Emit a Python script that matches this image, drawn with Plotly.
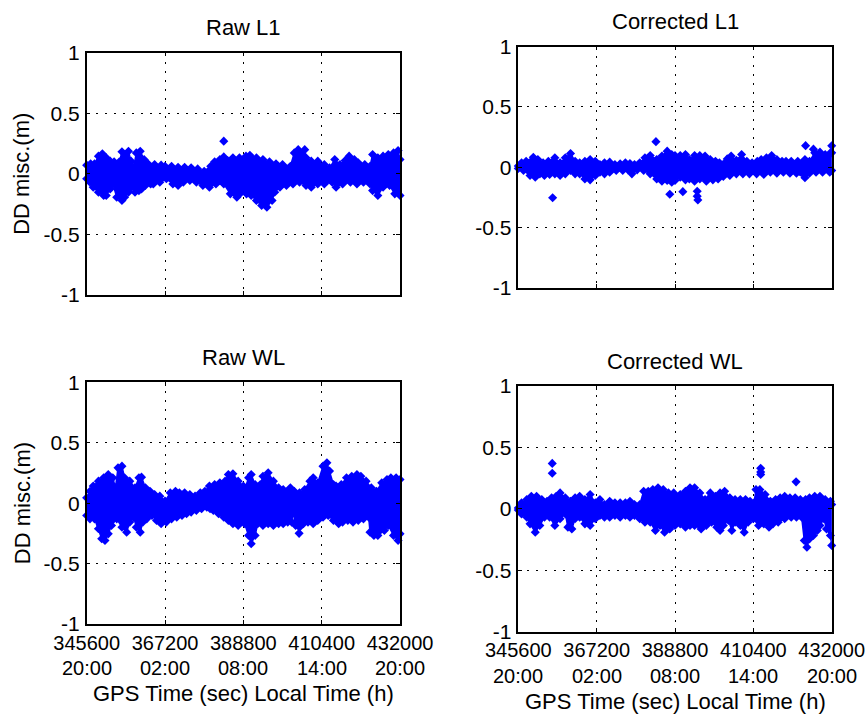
import plotly.graph_objects as go

# GPS second-of-week at 20:00 local time (start of the 24 h session)
T0 = 345600

# ---------------- Raw L1 ----------------
raw_l1_top_h = [0.0, 0.3, 0.6, 0.9, 1.2, 1.5, 1.8, 2.1, 2.5, 2.7, 3.2, 3.4, 3.6, 3.8, 4.1, 4.4, 4.7, 5.2, 5.7, 6.0,
                6.5, 7.0, 7.5, 8.0, 8.5, 9.0, 9.5, 9.8, 10.2, 10.5, 10.8, 11.2, 11.7, 12.2, 12.5, 13.0, 13.5, 14.0,
                14.5, 15.0, 15.6, 15.9, 16.2, 16.7, 16.8, 17.2, 17.7, 18.2, 18.6, 19.0, 19.4, 19.8, 20.1, 20.5,
                20.8, 21.3, 21.7, 21.9, 22.3, 22.7, 23.1, 23.5, 23.85, 24.0]
raw_l1_top = [0.072, 0.083, 0.083, 0.146, 0.165, 0.132, 0.105, 0.099, 0.099, 0.182, 0.187, 0.105, 0.055, 0.173,
              0.187, 0.118, 0.083, 0.077, 0.072, 0.063, 0.063, 0.055, 0.055, 0.050, 0.041, 0.022, 0.063, 0.099,
              0.118, 0.140, 0.110, 0.132, 0.132, 0.146, 0.154, 0.132, 0.118, 0.099, 0.083, 0.077, 0.063, 0.173,
              0.200, 0.200, 0.132, 0.105, 0.105, 0.077, 0.050, 0.118, 0.077, 0.110, 0.146, 0.118, 0.091, 0.077,
              0.063, 0.160, 0.132, 0.146, 0.160, 0.173, 0.193, 0.118]
raw_l1_bot_h = [0.0, 0.25, 0.5, 0.9, 1.3, 1.5, 1.8, 2.0, 2.3, 2.7, 2.9, 3.2, 3.4, 3.7, 4.0, 4.2, 4.5, 4.9, 5.1, 5.6,
                6.1, 6.6, 7.0, 7.4, 7.9, 8.4, 8.9, 9.4, 9.9, 10.5, 11.0, 11.5, 11.73, 12.24, 12.6, 13.0, 13.4,
                13.8, 14.2, 14.4, 14.8, 15.3, 15.8, 16.3, 16.8, 17.2, 17.7, 18.2, 18.8, 19.1, 19.6, 20.2, 20.7,
                21.2, 21.7, 21.9, 22.3, 22.7, 23.2, 23.6, 24.0]
raw_l1_bot = [-0.041, -0.069, -0.110, -0.151, -0.179, -0.179, -0.124, -0.083, -0.193, -0.220, -0.193, -0.151,
              -0.110, -0.151, -0.138, -0.124, -0.096, -0.083, -0.083, -0.069, -0.041, -0.083, -0.096, -0.069,
              -0.055, -0.069, -0.096, -0.110, -0.083, -0.083, -0.165, -0.193, -0.165, -0.165, -0.179, -0.220,
              -0.261, -0.275, -0.220, -0.151, -0.110, -0.096, -0.083, -0.069, -0.096, -0.110, -0.083, -0.083,
              -0.069, -0.110, -0.083, -0.069, -0.083, -0.069, -0.083, -0.138, -0.179, -0.110, -0.096, -0.165,
              -0.179]
raw_l1_out_h = [10.5]
raw_l1_out = [0.27]

# ---------------- Corrected L1 ----------------
cor_l1_top_h = [0.0, 0.25, 0.6, 1.15, 1.5, 1.9, 2.3, 2.8, 3.2, 3.6, 4.0, 4.35, 4.7, 5.1, 5.5, 5.9, 6.25, 6.6, 7.0,
                7.4, 7.8, 8.2, 8.55, 8.9, 9.3, 9.7, 10.1, 10.6, 11.0, 11.4, 11.75, 12.0, 12.4, 12.8, 13.1, 13.5,
                13.9, 14.3, 14.7, 15.1, 15.4, 16.0, 16.3, 16.7, 17.1, 17.5, 17.9, 18.3, 18.6, 19.0, 19.4, 19.8,
                20.2, 20.5, 20.9, 21.4, 21.95, 22.3, 22.7, 23.1, 23.5, 23.9, 24.0]
cor_l1_top = [0.010, 0.036, 0.050, 0.083, 0.064, 0.036, 0.050, 0.078, 0.036, 0.078, 0.114, 0.050, 0.036, 0.050,
              0.064, 0.050, 0.022, 0.036, 0.042, 0.022, 0.028, 0.036, 0.031, 0.022, 0.036, 0.078, 0.097, 0.064,
              0.092, 0.133, 0.105, 0.097, 0.097, 0.105, 0.064, 0.097, 0.097, 0.092, 0.064, 0.050, 0.036, 0.069,
              0.092, 0.058, 0.105, 0.050, 0.036, 0.050, 0.064, 0.078, 0.097, 0.064, 0.050, 0.050, 0.050, 0.050,
              0.064, 0.050, 0.119, 0.125, 0.105, 0.119, 0.119]
cor_l1_bot_h = [0.0, 0.4, 0.9, 1.3, 1.65, 2.0, 2.4, 2.8, 3.2, 3.6, 4.0, 4.35, 4.7, 5.1, 5.5, 5.9, 6.25, 6.6, 7.0,
                7.5, 8.0, 8.4, 8.7, 9.1, 9.6, 10.1, 10.6, 11.0, 11.4, 11.75, 12.0, 12.4, 12.8, 13.1, 13.5, 13.9,
                14.4, 14.9, 15.3, 15.7, 16.2, 16.7, 17.2, 17.7, 18.25, 18.8, 19.3, 19.8, 20.3, 20.8, 21.3, 21.95,
                22.3, 22.8, 23.3, 23.85, 24.0]
cor_l1_bot = [-0.010, -0.027, -0.069, -0.083, -0.055, -0.069, -0.061, -0.055, -0.069, -0.055, -0.027, -0.055,
              -0.055, -0.097, -0.105, -0.069, -0.041, -0.055, -0.041, -0.027, -0.027, -0.022, -0.055, -0.022,
              -0.027, -0.055, -0.097, -0.116, -0.110, -0.124, -0.110, -0.083, -0.105, -0.097, -0.116, -0.097,
              -0.116, -0.105, -0.097, -0.077, -0.069, -0.055, -0.055, -0.055, -0.055, -0.061, -0.041, -0.050,
              -0.041, -0.050, -0.050, -0.088, -0.050, -0.041, -0.041, -0.041, -0.027]
cor_l1_out_h = [2.63, 10.54, 11.6, 12.6, 13.7, 13.7, 13.75, 22.0, 22.6, 24.0]
cor_l1_out = [-0.253, 0.212, -0.225, -0.203, -0.200, -0.240, -0.272, 0.179, 0.150, 0.178]

# ---------------- Raw WL ----------------
raw_wl_top_h = [0.0, 0.25, 0.5, 0.9, 1.3, 1.65, 2.0, 2.2, 2.4, 2.7, 2.9, 3.3, 3.7, 4.0, 4.2, 4.5, 4.85, 5.2, 5.6,
                6.0, 6.4, 6.8, 7.1, 7.5, 7.9, 8.3, 8.7, 9.05, 9.4, 9.8, 10.2, 10.6, 10.85, 11.2, 11.6, 12.0, 12.1,
                12.4, 12.6, 12.9, 13.3, 13.5, 13.9, 14.3, 14.7, 15.05, 15.6, 15.9, 16.3, 16.7, 17.1, 17.35, 17.7,
                18.1, 18.4, 18.6, 18.9, 19.1, 19.5, 19.9, 20.3, 20.7, 21.0, 21.4, 21.8, 22.2, 22.6, 23.0, 23.3,
                23.7, 24.0]
raw_wl_top = [0.044, 0.099, 0.141, 0.182, 0.210, 0.237, 0.210, 0.127, 0.292, 0.306, 0.210, 0.182, 0.127, 0.210,
              0.215, 0.127, 0.099, 0.072, 0.058, 0.017, 0.085, 0.099, 0.085, 0.085, 0.072, 0.058, 0.085, 0.099,
              0.141, 0.154, 0.168, 0.182, 0.237, 0.243, 0.182, 0.141, 0.113, 0.210, 0.237, 0.154, 0.154, 0.223,
              0.251, 0.182, 0.127, 0.113, 0.127, 0.099, 0.085, 0.113, 0.182, 0.210, 0.168, 0.306, 0.334, 0.265,
              0.154, 0.141, 0.154, 0.210, 0.223, 0.237, 0.223, 0.182, 0.127, 0.099, 0.168, 0.196, 0.210, 0.210,
              0.196]
raw_wl_bot_h = [0.0, 0.25, 0.6, 0.9, 1.15, 1.4, 1.65, 1.9, 2.3, 2.7, 3.06, 3.3, 3.6, 3.8, 4.1, 4.3, 4.6, 5.0, 5.35,
                5.7, 6.1, 6.5, 6.9, 7.3, 7.65, 8.0, 8.4, 8.8, 9.2, 9.45, 9.7, 10.1, 10.5, 10.85, 11.2, 11.6, 12.1,
                12.4, 12.6, 12.9, 13.1, 13.5, 13.9, 14.3, 14.7, 15.05, 15.4, 15.7, 15.8, 16.0, 16.3, 16.6, 16.95,
                17.35, 17.7, 18.1, 18.5, 18.9, 19.3, 19.6, 20.0, 20.4, 20.8, 21.2, 21.6, 21.7, 22.0, 22.3, 22.8,
                23.1, 23.5, 23.85, 24.0]
raw_wl_bot = [-0.102, -0.130, -0.130, -0.212, -0.295, -0.309, -0.254, -0.185, -0.130, -0.199, -0.240, -0.157,
              -0.116, -0.199, -0.240, -0.157, -0.130, -0.102, -0.143, -0.171, -0.157, -0.130, -0.116, -0.102,
              -0.088, -0.074, -0.061, -0.047, -0.033, -0.047, -0.061, -0.088, -0.116, -0.143, -0.171, -0.185,
              -0.171, -0.267, -0.336, -0.267, -0.171, -0.185, -0.171, -0.185, -0.171, -0.171, -0.157, -0.157,
              -0.074, -0.185, -0.199, -0.171, -0.157, -0.171, -0.143, -0.116, -0.102, -0.143, -0.171, -0.157,
              -0.143, -0.157, -0.143, -0.130, -0.116, -0.240, -0.267, -0.267, -0.226, -0.185, -0.267, -0.309,
              -0.254]
raw_wl_out_h = [16.27]
raw_wl_out = [-0.25]

# ---------------- Corrected WL ----------------
cor_wl_top_h = [0.0, 0.25, 0.65, 1.0, 1.4, 1.8, 2.2, 2.55, 2.9, 3.2, 3.6, 4.0, 4.35, 4.7, 5.1, 5.5, 5.9, 6.25, 6.6,
                7.0, 7.4, 7.8, 8.2, 8.55, 8.9, 9.3, 9.6, 9.95, 10.3, 10.7, 11.1, 11.5, 11.9, 12.4, 12.8, 13.15,
                13.5, 13.9, 14.3, 14.7, 15.1, 15.45, 15.8, 16.2, 16.6, 17.0, 17.4, 17.75, 18.05, 18.2, 18.5, 18.9,
                19.3, 19.7, 20.05, 20.4, 20.8, 21.2, 21.6, 22.0, 22.3, 22.7, 23.1, 23.5, 23.9, 24.0]
cor_wl_top = [0.008, 0.049, 0.076, 0.103, 0.103, 0.076, 0.062, 0.090, 0.103, 0.130, 0.090, 0.062, 0.090, 0.103,
              0.076, 0.117, 0.049, 0.076, 0.035, 0.062, 0.049, 0.049, 0.049, 0.062, 0.035, 0.035, 0.144, 0.144,
              0.157, 0.171, 0.157, 0.130, 0.130, 0.117, 0.144, 0.171, 0.171, 0.130, 0.076, 0.130, 0.103, 0.130,
              0.144, 0.090, 0.076, 0.076, 0.076, 0.062, 0.049, 0.157, 0.157, 0.117, 0.062, 0.076, 0.090, 0.103,
              0.090, 0.090, 0.076, 0.076, 0.090, 0.103, 0.103, 0.076, 0.062, 0.035]
cor_wl_bot_h = [0.0, 0.25, 0.65, 0.9, 1.3, 1.65, 2.0, 2.4, 2.8, 3.2, 3.6, 3.8, 4.1, 4.35, 4.7, 5.1, 5.5, 5.9, 6.25,
                6.6, 7.0, 7.4, 7.8, 8.2, 8.55, 8.9, 9.3, 9.7, 10.1, 10.5, 10.85, 11.2, 11.6, 12.0, 12.4, 12.8,
                13.15, 13.5, 14.0, 14.4, 14.8, 15.2, 15.45, 15.7, 16.1, 16.35, 16.6, 17.0, 17.3, 17.6, 18.0, 18.4,
                18.8, 19.2, 19.5, 19.9, 20.4, 20.9, 21.3, 21.7, 21.9, 22.1, 22.3, 22.6, 22.9, 23.1, 23.4, 23.6,
                23.9, 24.0]
cor_wl_bot = [-0.010, -0.041, -0.068, -0.122, -0.190, -0.136, -0.068, -0.068, -0.136, -0.081, -0.041, -0.149,
              -0.163, -0.081, -0.068, -0.122, -0.136, -0.081, -0.054, -0.068, -0.068, -0.054, -0.068, -0.054,
              -0.068, -0.054, -0.081, -0.109, -0.109, -0.176, -0.136, -0.190, -0.163, -0.136, -0.122, -0.149,
              -0.136, -0.136, -0.163, -0.136, -0.109, -0.149, -0.176, -0.136, -0.095, -0.176, -0.109, -0.136,
              -0.190, -0.109, -0.081, -0.136, -0.122, -0.149, -0.122, -0.109, -0.081, -0.068, -0.068, -0.068,
              -0.258, -0.312, -0.244, -0.217, -0.176, -0.136, -0.081, -0.163, -0.217, -0.298]
cor_wl_out_h = [2.6, 2.6, 18.56, 18.56, 18.56, 21.27]
cor_wl_out = [0.37, 0.29, 0.33, 0.30, 0.28, 0.22]

# ---------------- axes labelling ----------------
x_tick_gps = [345600, 367200, 388800, 410400, 432000]
x_tick_local = ["20:00", "02:00", "08:00", "14:00", "20:00"]
y_tick_vals = [-1, -0.5, 0, 0.5, 1]
y_tick_text = ["-1", "-0.5", "0", "0.5", "1"]

BLUE = "rgb(0,0,255)"
FONT = "Liberation Sans, Arial, Helvetica, sans-serif"
W, H = 867, 715

# panel domains in paper fractions (x0, x1, y0, y1)
panels = [
    ("Raw L1", raw_l1_top_h, raw_l1_top, raw_l1_bot_h, raw_l1_bot, raw_l1_out_h, raw_l1_out,
     (0.1000, 0.4614, 0.5874, 0.9263)),
    ("Corrected L1", cor_l1_top_h, cor_l1_top, cor_l1_bot_h, cor_l1_bot, cor_l1_out_h, cor_l1_out,
     (0.5978, 0.9593, 0.5976, 0.9347)),
    ("Raw WL", raw_wl_top_h, raw_wl_top, raw_wl_bot_h, raw_wl_bot, raw_wl_out_h, raw_wl_out,
     (0.1000, 0.4614, 0.1273, 0.4653)),
    ("Corrected WL", cor_wl_top_h, cor_wl_top, cor_wl_bot_h, cor_wl_bot, cor_wl_out_h, cor_wl_out,
     (0.5978, 0.9593, 0.1165, 0.4601)),
]


def gps(hours):
    return [T0 + 3600 * h for h in hours]


fig = go.Figure()
layout = dict(
    width=W, height=H,
    margin=dict(l=0, r=0, t=0, b=0, autoexpand=False),
    paper_bgcolor="white", plot_bgcolor="white",
    showlegend=False,
    font=dict(family=FONT, size=21, color="black"),
)
annotations = []

for i, (title, th, tv, bh, bv, oh, ov, dom) in enumerate(panels, start=1):
    xa = "x" if i == 1 else f"x{i}"
    ya = "y" if i == 1 else f"y{i}"
    x0, x1, y0, y1 = dom

    # dense band of residuals: region between upper and lower envelopes
    fig.add_trace(go.Scatter(
        x=gps(th) + gps(bh)[::-1], y=tv + bv[::-1],
        mode="lines", fill="toself", fillcolor=BLUE,
        line=dict(color=BLUE, width=1.5), hoverinfo="skip",
        xaxis=xa, yaxis=ya))
    # diamond markers along the envelopes plus isolated points
    fig.add_trace(go.Scatter(
        x=gps(th + bh + oh), y=tv + bv + ov,
        mode="markers", cliponaxis=False,
        marker=dict(symbol="diamond", size=7, color=BLUE, line=dict(width=0)),
        xaxis=xa, yaxis=ya))

    bottom_row = i >= 3
    axis_common = dict(
        showline=True, linecolor="black", linewidth=1.5, mirror="ticks",
        ticks="inside", ticklen=4, tickcolor="black", tickwidth=1,
        showgrid=True, gridcolor="black", griddash="2px,7px", gridwidth=1.2,
        zeroline=False, automargin=False, tickangle=0,
        tickfont=dict(family=FONT, size=21, color="black"),
    )
    layout["xaxis" if i == 1 else f"xaxis{i}"] = dict(
        axis_common, domain=[x0, x1], range=[345600, 432000],
        tickmode="array", tickvals=x_tick_gps,
        ticktext=[str(v) for v in x_tick_gps],
        tickfont=dict(family=FONT, size=20, color="black"),
        showticklabels=bottom_row, ticklabelstandoff=0,
        anchor=ya)
    layout["yaxis" if i == 1 else f"yaxis{i}"] = dict(
        axis_common, domain=[y0, y1], range=[-1, 1],
        tickmode="array", tickvals=y_tick_vals, ticktext=y_tick_text,
        ticklabelstandoff=1, anchor=xa)

    annotations.append(dict(
        text=title, xref="paper", yref="paper", x=(x0 + x1) / 2, y=y1,
        xanchor="center", yanchor="middle", yshift=25, showarrow=False,
        font=dict(family=FONT, size=22, color="black")))
    if i in (1, 3):
        annotations.append(dict(
            text="DD misc.(m)", xref="paper", yref="paper", x=22 / W, y=(y0 + y1) / 2,
            xanchor="center", yanchor="middle", textangle=-90, showarrow=False,
            font=dict(family=FONT, size=22, color="black")))
    if bottom_row:
        for gv, lt in zip(x_tick_gps, x_tick_local):
            annotations.append(dict(
                text=lt, xref=xa, yref="paper", x=gv, y=y0,
                xanchor="center", yanchor="middle", yshift=-44, showarrow=False,
                borderpad=0, font=dict(family=FONT, size=20, color="black")))
        annotations.append(dict(
            text="GPS Time (sec) Local Time (h)", xref="paper", yref="paper",
            x=(x0 + x1) / 2, y=y0, xanchor="center", yanchor="middle", yshift=-70,
            showarrow=False, font=dict(family=FONT, size=22, color="black")))

layout["annotations"] = annotations
fig.update_layout(**layout)
fig.write_html("out.html")
